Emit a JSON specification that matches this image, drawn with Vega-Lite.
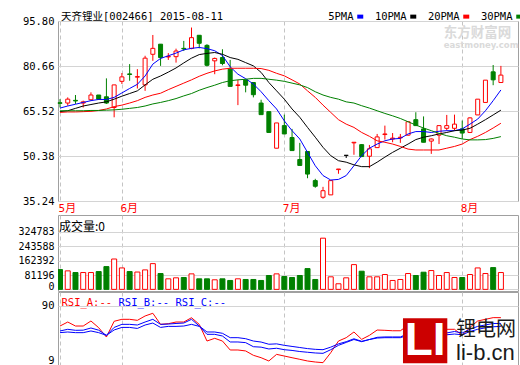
{
  "$schema": "https://vega.github.io/schema/vega-lite/v6.json",
  "background": "white",
  "padding": {"left": 17, "top": 10, "right": 1, "bottom": 1},
  "bounds": "flush",
  "spacing": 14,
  "resolve": {"scale": {"color": "independent", "fill": "independent", "stroke": "independent"}, "legend": {"color": "independent"}},
  "config": {
    "view": {"stroke": "#A0A0A0", "strokeWidth": 1},
    "axis": {"labelFont": "DejaVu Sans Mono", "labelFontSize": 10.5, "labelColor": "#000000", "ticks": false, "domain": false, "gridColor": "#D4D4D4", "gridWidth": 1, "labelOverlap": false},
    "title": {"font": "DejaVu Sans Mono, Noto Sans CJK SC", "fontSize": 10.5, "fontWeight": "normal", "color": "#000000"},
    "legend": {"padding": 0, "labelFont": "DejaVu Sans Mono", "labelFontSize": 10.5, "labelColor": "#000000"}
  },
  "datasets": {
    "k": [
      {"i":0,"o":68.3,"h":69.5,"l":66.7,"c":68.1,"d":"down","v":112000,"m5":66.5,"m10":65.3,"m20":65.05,"m30":65.6,"ra":62.5,"rb":55.7,"rc":53.4},
      {"i":1,"o":68.2,"h":70.1,"l":67.3,"c":69.5,"d":"up","v":104700,"m5":67.2,"m10":65.6,"m20":65.2,"m30":65.6,"ra":68.0,"rb":58.0,"rc":54.3},
      {"i":2,"o":69.1,"h":70.9,"l":67.9,"c":68.9,"d":"down","v":95200,"m5":67.8,"m10":66.4,"m20":65.2,"m30":65.6,"ra":62.5,"rb":56.6,"rc":53.4},
      {"i":3,"o":68.2,"h":69.0,"l":66.7,"c":68.6,"d":"up","v":95200,"m5":68.4,"m10":67.2,"m20":65.3,"m30":65.6,"ra":62.5,"rb":56.8,"rc":53.4},
      {"i":4,"o":69.3,"h":71.8,"l":69.0,"c":70.9,"d":"up","v":95200,"m5":69.0,"m10":67.7,"m20":65.4,"m30":65.7,"ra":69.4,"rb":59.8,"rc":55.7},
      {"i":5,"o":70.9,"h":70.9,"l":69.3,"c":69.5,"d":"down","v":100800,"m5":69.4,"m10":68.2,"m20":65.7,"m30":65.7,"ra":60.2,"rb":56.8,"rc":53.4},
      {"i":6,"o":70.3,"h":76.5,"l":67.9,"c":68.2,"d":"down","v":128800,"m5":69.4,"m10":68.6,"m20":66.2,"m30":65.8,"ra":47.4,"rb":49.7,"rc":49.7},
      {"i":7,"o":66.7,"h":74.3,"l":63.4,"c":74.3,"d":"up","v":171700,"m5":70.1,"m10":69.5,"m20":67.0,"m30":65.9,"ra":69.0,"rb":60.6,"rc":57.1},
      {"i":8,"o":75.5,"h":78.3,"l":74.6,"c":77.0,"d":"up","v":121300,"m5":71.6,"m10":70.5,"m20":67.5,"m30":66.1,"ra":71.7,"rb":64.8,"rc":60.6},
      {"i":9,"o":78.0,"h":81.3,"l":75.7,"c":77.8,"d":"down","v":100800,"m5":73.1,"m10":71.4,"m20":68.2,"m30":66.4,"ra":71.7,"rb":64.8,"rc":60.6},
      {"i":10,"o":76.9,"h":79.6,"l":73.1,"c":77.1,"d":"up","v":98000,"m5":74.5,"m10":72.3,"m20":69.0,"m30":66.7,"ra":70.3,"rb":63.9,"rc":59.2},
      {"i":11,"o":74.3,"h":84.1,"l":72.3,"c":83.3,"d":"up","v":110100,"m5":77.3,"m10":74.3,"m20":70.1,"m30":67.2,"ra":76.3,"rb":68.0,"rc":63.9},
      {"i":12,"o":84.6,"h":91.1,"l":82.4,"c":86.6,"d":"up","v":145600,"m5":81.3,"m10":76.2,"m20":70.9,"m30":67.9,"ra":80.0,"rb":71.7,"rc":66.6},
      {"i":13,"o":88.0,"h":88.0,"l":80.7,"c":83.5,"d":"down","v":89600,"m5":83.2,"m10":77.3,"m20":71.5,"m30":68.4,"ra":64.8,"rb":64.8,"rc":60.6},
      {"i":14,"o":83.7,"h":85.0,"l":82.7,"c":83.9,"d":"up","v":59700,"m5":84.1,"m10":78.6,"m20":72.7,"m30":69.0,"ra":65.7,"rb":65.2,"rc":62.0},
      {"i":15,"o":83.8,"h":86.5,"l":81.8,"c":85.7,"d":"up","v":65300,"m5":85.0,"m10":80.0,"m20":73.8,"m30":69.7,"ra":68.0,"rb":66.0,"rc":62.0},
      {"i":16,"o":86.6,"h":89.1,"l":85.7,"c":86.4,"d":"down","v":67200,"m5":86.1,"m10":81.7,"m20":74.9,"m30":70.6,"ra":68.0,"rb":66.6,"rc":62.5},
      {"i":17,"o":86.6,"h":93.6,"l":86.3,"c":90.2,"d":"up","v":87700,"m5":86.6,"m10":83.3,"m20":76.0,"m30":71.4,"ra":73.9,"rb":71.7,"rc":64.8},
      {"i":18,"o":91.0,"h":91.0,"l":86.6,"c":88.3,"d":"down","v":59700,"m5":86.9,"m10":84.5,"m20":77.2,"m30":72.5,"ra":64.8,"rb":62.5,"rc":62.0},
      {"i":19,"o":87.6,"h":88.0,"l":80.5,"c":80.9,"d":"down","v":59700,"m5":86.5,"m10":84.9,"m20":78.2,"m30":73.4,"ra":41.9,"rb":54.3,"rc":51.1},
      {"i":20,"o":82.4,"h":83.5,"l":77.9,"c":83.2,"d":"up","v":54100,"m5":85.8,"m10":85.2,"m20":79.0,"m30":74.2,"ra":45.6,"rb":54.3,"rc":51.1},
      {"i":21,"o":83.5,"h":86.3,"l":80.9,"c":81.5,"d":"down","v":59700,"m5":84.2,"m10":84.6,"m20":79.6,"m30":75.1,"ra":41.9,"rb":52.5,"rc":48.8},
      {"i":22,"o":79.6,"h":82.7,"l":73.8,"c":73.8,"d":"down","v":50400,"m5":80.4,"m10":83.5,"m20":79.9,"m30":75.7,"ra":29.6,"rb":46.5,"rc":40.6},
      {"i":23,"o":74.1,"h":76.0,"l":67.5,"c":74.3,"d":"up","v":59700,"m5":77.9,"m10":82.9,"m20":79.9,"m30":76.0,"ra":29.6,"rb":46.5,"rc":40.6},
      {"i":24,"o":76.0,"h":76.0,"l":71.8,"c":74.2,"d":"down","v":56000,"m5":76.4,"m10":81.8,"m20":79.9,"m30":76.2,"ra":28.3,"rb":45.1,"rc":39.7},
      {"i":25,"o":75.1,"h":75.1,"l":70.1,"c":71.0,"d":"down","v":56000,"m5":74.6,"m10":80.7,"m20":79.9,"m30":76.5,"ra":22.3,"rb":41.9,"rc":34.1},
      {"i":26,"o":68.2,"h":69.3,"l":64.3,"c":64.3,"d":"down","v":50400,"m5":72.0,"m10":78.5,"m20":79.8,"m30":76.5,"ra":19.0,"rb":40.5,"rc":33.5},
      {"i":27,"o":65.3,"h":65.3,"l":58.3,"c":58.3,"d":"down","v":78400,"m5":69.0,"m10":75.1,"m20":79.2,"m30":76.2,"ra":14.5,"rb":37.5,"rc":31.0},
      {"i":28,"o":53.0,"h":61.5,"l":53.0,"c":61.5,"d":"up","v":87700,"m5":66.2,"m10":72.3,"m20":78.2,"m30":75.9,"ra":23.6,"rb":38.0,"rc":32.0},
      {"i":29,"o":60.6,"h":64.3,"l":57.8,"c":57.8,"d":"down","v":72800,"m5":62.2,"m10":69.5,"m20":77.35,"m30":75.5,"ra":21.3,"rb":36.0,"rc":30.0},
      {"i":30,"o":56.6,"h":59.5,"l":52.2,"c":52.2,"d":"down","v":67200,"m5":58.9,"m10":66.2,"m20":76.0,"m30":74.9,"ra":19.0,"rb":34.5,"rc":29.0},
      {"i":31,"o":49.2,"h":54.8,"l":47.2,"c":47.2,"d":"down","v":78400,"m5":56.1,"m10":63.4,"m20":74.6,"m30":74.3,"ra":16.8,"rb":33.0,"rc":27.5},
      {"i":32,"o":51.9,"h":51.9,"l":42.9,"c":44.3,"d":"down","v":117600,"m5":51.6,"m10":60.0,"m20":72.3,"m30":73.4,"ra":14.5,"rb":31.5,"rc":26.5},
      {"i":33,"o":42.1,"h":42.7,"l":39.7,"c":40.2,"d":"down","v":56000,"m5":47.1,"m10":56.7,"m20":70.1,"m30":72.0,"ra":13.1,"rb":30.5,"rc":25.5},
      {"i":34,"o":36.5,"h":40.0,"l":36.0,"c":38.7,"d":"up","v":289500,"m5":43.8,"m10":53.3,"m20":67.5,"m30":70.9,"ra":12.2,"rb":30.0,"rc":25.0},
      {"i":35,"o":37.3,"h":42.1,"l":37.3,"c":42.1,"d":"up","v":71000,"m5":42.3,"m10":50.5,"m20":65.05,"m30":70.1,"ra":25.9,"rb":33.5,"rc":30.0},
      {"i":36,"o":45.8,"h":46.0,"l":44.4,"c":46.0,"d":"up","v":31700,"m5":42.5,"m10":48.8,"m20":62.6,"m30":69.5,"ra":41.9,"rb":38.0,"rc":36.0},
      {"i":37,"o":50.6,"h":50.6,"l":49.7,"c":50.6,"d":"flat","v":65300,"m5":43.8,"m10":48.3,"m20":61.1,"m30":68.6,"ra":46.5,"rb":41.0,"rc":40.0},
      {"i":38,"o":54.8,"h":55.0,"l":50.8,"c":55.0,"d":"up","v":140000,"m5":47.1,"m10":47.4,"m20":60.0,"m30":68.2,"ra":54.3,"rb":45.0,"rc":44.0},
      {"i":39,"o":54.2,"h":54.4,"l":50.0,"c":50.2,"d":"down","v":102700,"m5":50.5,"m10":46.8,"m20":58.3,"m30":67.3,"ra":44.2,"rb":41.5,"rc":41.0},
      {"i":40,"o":50.3,"h":54.1,"l":46.3,"c":52.8,"d":"up","v":71000,"m5":53.0,"m10":46.8,"m20":57.0,"m30":66.5,"ra":49.7,"rb":44.0,"rc":44.0},
      {"i":41,"o":53.2,"h":57.8,"l":53.2,"c":56.8,"d":"up","v":71000,"m5":54.4,"m10":48.3,"m20":55.5,"m30":65.6,"ra":57.0,"rb":47.0,"rc":46.0},
      {"i":42,"o":57.6,"h":60.6,"l":55.9,"c":57.8,"d":"up","v":84000,"m5":55.5,"m10":50.0,"m20":55.0,"m30":64.7,"ra":56.6,"rb":47.5,"rc":46.5},
      {"i":43,"o":56.1,"h":58.1,"l":55.0,"c":56.4,"d":"up","v":50400,"m5":56.1,"m10":51.6,"m20":54.4,"m30":63.9,"ra":56.0,"rb":47.5,"rc":46.5},
      {"i":44,"o":56.5,"h":57.8,"l":54.8,"c":56.7,"d":"up","v":56000,"m5":56.3,"m10":53.0,"m20":53.6,"m30":63.0,"ra":56.0,"rb":47.5,"rc":46.5},
      {"i":45,"o":57.4,"h":61.9,"l":57.2,"c":61.9,"d":"up","v":89600,"m5":57.8,"m10":54.4,"m20":52.7,"m30":61.9,"ra":63.5,"rb":52.0,"rc":50.0},
      {"i":46,"o":62.6,"h":65.1,"l":60.6,"c":60.6,"d":"down","v":78400,"m5":58.6,"m10":55.9,"m20":52.4,"m30":60.8,"ra":60.0,"rb":51.0,"rc":49.5},
      {"i":47,"o":59.5,"h":63.7,"l":55.0,"c":55.0,"d":"down","v":97100,"m5":58.6,"m10":56.7,"m20":52.4,"m30":59.8,"ra":52.0,"rb":48.0,"rc":47.0},
      {"i":48,"o":55.4,"h":56.3,"l":51.1,"c":56.1,"d":"up","v":106400,"m5":58.3,"m10":57.2,"m20":52.4,"m30":58.9,"ra":55.0,"rb":49.5,"rc":48.0},
      {"i":49,"o":57.4,"h":60.6,"l":54.4,"c":60.6,"d":"up","v":78400,"m5":58.7,"m10":57.8,"m20":52.4,"m30":58.0,"ra":57.0,"rb":51.0,"rc":49.0},
      {"i":50,"o":59.7,"h":64.2,"l":58.9,"c":60.6,"d":"up","v":95200,"m5":58.9,"m10":58.3,"m20":53.0,"m30":57.2,"ra":58.0,"rb":53.0,"rc":50.5},
      {"i":51,"o":59.7,"h":64.3,"l":58.9,"c":61.1,"d":"up","v":67200,"m5":58.9,"m10":58.9,"m20":53.6,"m30":56.7,"ra":58.0,"rb":55.0,"rc":51.5},
      {"i":52,"o":59.5,"h":62.3,"l":56.1,"c":58.1,"d":"down","v":67200,"m5":59.5,"m10":59.1,"m20":54.4,"m30":56.1,"ra":49.7,"rb":53.0,"rc":50.5},
      {"i":53,"o":58.3,"h":63.4,"l":58.1,"c":63.2,"d":"up","v":84000,"m5":61.1,"m10":59.7,"m20":55.9,"m30":55.8,"ra":60.6,"rb":58.0,"rc":55.0},
      {"i":54,"o":64.2,"h":69.5,"l":64.2,"c":69.5,"d":"up","v":121300,"m5":62.8,"m10":61.1,"m20":57.0,"m30":55.8,"ra":69.4,"rb":62.0,"rc":58.0},
      {"i":55,"o":68.4,"h":75.9,"l":68.4,"c":75.9,"d":"up","v":89600,"m5":65.6,"m10":62.6,"m20":58.3,"m30":55.9,"ra":71.7,"rb":64.0,"rc":60.0},
      {"i":56,"o":78.7,"h":81.0,"l":74.2,"c":76.0,"d":"down","v":123200,"m5":69.0,"m10":64.2,"m20":59.8,"m30":56.3,"ra":74.0,"rb":66.0,"rc":61.5},
      {"i":57,"o":75.1,"h":80.7,"l":75.1,"c":77.6,"d":"up","v":95200,"m5":72.6,"m10":65.8,"m20":61.4,"m30":56.9,"ra":74.0,"rb":66.0,"rc":62.0}
    ]
  },
  "vconcat": [
    {
      "width": 460,
      "height": 180,
      "title": {"text": "天齐锂业[002466] 2015-08-11", "anchor": "start", "frame": "group", "offset": -5, "dx": 3, "dy": 6},
      "data": {"name": "k"},
      "encoding": {
        "x": {"field": "i", "type": "quantitative", "scale": {"domain": [-0.26, 59.21], "nice": false, "zero": false, "padding": 0},
          "axis": {"title": null, "values": [0, 8, 29, 52], "labelExpr": "datum.value == 0 ? '5月' : datum.value == 8 ? '6月' : datum.value == 29 ? '7月' : '8月'", "grid": true, "gridDash": [4, 3], "gridColor": "#C4C4C4", "labelColor": "#FF0000", "labelFont": "DejaVu Sans Mono, Noto Sans CJK SC", "labelFontSize": 11, "labelAlign": "left", "labelOffset": -2, "labelPadding": 1, "labelFlush": false, "labelOverlap": false}}
      },
      "layer": [
        {
          "mark": {"type": "rule", "strokeWidth": 1},
          "encoding": {
            "y": {"field": "l", "type": "quantitative", "scale": {"domain": [35.24, 95.8], "nice": false, "zero": false, "padding": 0},
              "axis": {"title": null, "values": [35.24, 42.81, 50.38, 57.95, 65.52, 73.09, 80.66, 88.23, 95.8], "format": ".2f", "grid": true, "labelPadding": 4, "labelOverlap": false}},
            "y2": {"field": "h"},
            "stroke": {"field": "d", "type": "nominal", "scale": {"domain": ["up", "down", "flat"], "range": ["#FF0000", "#008000", "#000000"]}, "legend": null}
          }
        },
        {
          "mark": {"type": "bar", "size": 4, "strokeWidth": 1},
          "encoding": {
            "y": {"field": "o", "type": "quantitative"},
            "y2": {"field": "c"},
            "fill": {"field": "d", "type": "nominal", "scale": {"domain": ["up", "down", "flat"], "range": ["#FFFFFF", "#008000", "#000000"]}, "legend": null},
            "stroke": {"field": "d", "type": "nominal", "legend": null}
          }
        },
        {
          "transform": [{"fold": ["m5", "m10", "m20", "m30"], "as": ["ma", "val"]}],
          "mark": {"type": "line", "strokeWidth": 1},
          "encoding": {
            "y": {"field": "val", "type": "quantitative"},
            "color": {"field": "ma", "type": "nominal", "scale": {"domain": ["m5", "m10", "m20", "m30"], "range": ["#0000FF", "#000000", "#FF0000", "#008000"]},
              "legend": {"orient": "none", "legendX": 297, "legendY": -10, "direction": "horizontal", "title": null,
                "labelExpr": "datum.value == 'm5' ? '5PMA' : datum.value == 'm10' ? '10PMA' : datum.value == 'm20' ? '20PMA' : '30PMA'",
                "labelAlign": "right", "labelOffset": -12, "symbolType": "stroke", "symbolSize": 36, "symbolStrokeWidth": 4, "columnPadding": 2}}
          }
        },
        {
          "transform": [{"filter": "datum.i == 0"}],
          "mark": {"type": "text", "text": "东方财富网", "font": "Noto Sans CJK SC", "fontSize": 13.5, "fontWeight": "bold", "color": "#DADADA", "align": "left", "baseline": "middle"},
          "encoding": {"x": {"datum": 49.6}, "y": {"datum": 91.8}}
        },
        {
          "transform": [{"filter": "datum.i == 0"}],
          "mark": {"type": "text", "text": "eastmoney.com", "font": "DejaVu Sans", "fontSize": 8.5, "fontWeight": "bold", "color": "#DADADA", "align": "left", "baseline": "middle"},
          "encoding": {"x": {"datum": 49.6}, "y": {"datum": 87.6}}
        }
      ]
    },
    {
      "bounds": "flush",
      "spacing": 1,
      "resolve": {"scale": {"color": "independent", "fill": "independent", "stroke": "independent"}, "legend": {"color": "independent"}},
      "vconcat": [
        {
          "width": 460,
          "height": 76,
          "title": {"text": "成交量:0", "anchor": "start", "frame": "group", "offset": -19, "dx": 1, "font": "Noto Sans CJK SC", "fontSize": 12},
          "data": {"name": "k"},
          "mark": {"type": "bar", "size": 5, "strokeWidth": 1, "clip": true},
          "encoding": {
            "x": {"field": "i", "type": "quantitative", "scale": {"domain": [-0.26, 59.21], "nice": false, "zero": false, "padding": 0},
              "axis": {"title": null, "values": [0, 8, 29, 52], "labels": false, "grid": true, "gridDash": [4, 3], "gridColor": "#C4C4C4"}},
            "y": {"field": "v", "type": "quantitative", "scale": {"domain": [-9200, 420600], "nice": false, "zero": false, "padding": 0},
              "axis": {"title": null, "values": [0, 81196, 162392, 243588, 324783], "format": "d", "grid": true, "labelFlush": 3, "labelFlushOffset": 2, "labelFontSize": 10, "labelPadding": 4, "labelOverlap": false}},
            "fill": {"field": "d", "type": "nominal", "scale": {"domain": ["up", "down", "flat"], "range": ["#FFFFFF", "#008000", "#FFFFFF"]}, "legend": null},
            "stroke": {"field": "d", "type": "nominal", "scale": {"domain": ["up", "down", "flat"], "range": ["#FF0000", "#008000", "#FF0000"]}, "legend": null}
          }
        },
        {
          "width": 460,
          "height": 73,
          "data": {"name": "k"},
          "encoding": {
            "x": {"field": "i", "type": "quantitative", "scale": {"domain": [-0.26, 59.21], "nice": false, "zero": false, "padding": 0},
              "axis": {"title": null, "values": [0, 8, 29, 52], "labels": false, "grid": true, "gridDash": [4, 3], "gridColor": "#C4C4C4"}}
          },
          "layer": [
            {
              "transform": [{"fold": ["ra", "rb", "rc"], "as": ["rsi", "rv"]}],
              "mark": {"type": "line", "strokeWidth": 1},
              "encoding": {
                "y": {"field": "rv", "type": "quantitative", "scale": {"domain": [9, 109.2], "nice": false, "zero": false, "padding": 0},
                  "axis": {"title": null, "values": [9, 49, 90], "grid": true, "labelFlush": 1, "labelPadding": 4, "labelOverlap": false}},
                "color": {"field": "rsi", "type": "nominal", "scale": {"domain": ["ra", "rb", "rc"], "range": ["#FF0000", "#0000FF", "#0000FF"]},
                  "legend": {"orient": "none", "legendX": 1, "legendY": 6, "direction": "horizontal", "title": null,
                    "labelExpr": "datum.value == 'ra' ? 'RSI_A:--' : datum.value == 'rb' ? 'RSI_B:--' : 'RSI_C:--'",
                    "labelColor": {"expr": "datum.value == 'ra' ? '#FF0000' : '#0000FF'"},
                    "symbolSize": 0, "symbolStrokeWidth": 0, "labelOffset": -8, "columnPadding": 3}}
              }
            },
            {
              "transform": [{"filter": "datum.i == 0"}],
              "mark": {"type": "rect", "color": "#CC0000"},
              "encoding": {"x": {"datum": 44.34}, "x2": {"datum": 50.07}, "y": {"datum": 11.3}, "y2": {"datum": 73.1}}
            },
            {
              "transform": [{"filter": "datum.i == 0"}],
              "mark": {"type": "text", "text": "LI", "font": "Liberation Sans", "fontSize": 46, "fontWeight": "bold", "color": "#FFFFFF", "align": "center", "baseline": "middle"},
              "encoding": {"x": {"datum": 47.2}, "y": {"datum": 42}}
            },
            {
              "transform": [{"filter": "datum.i == 0"}],
              "mark": {"type": "text", "text": "锂电网", "font": "Noto Sans CJK SC", "fontSize": 20, "color": "#1A1A1A", "align": "left", "baseline": "middle"},
              "encoding": {"x": {"datum": 51.2}, "y": {"datum": 57}}
            },
            {
              "transform": [{"filter": "datum.i == 0"}],
              "mark": {"type": "text", "text": "li-b.cn", "font": "Liberation Sans", "fontSize": 22, "color": "#1A1A1A", "align": "left", "baseline": "middle"},
              "encoding": {"x": {"datum": 51.2}, "y": {"datum": 24.8}}
            }
          ]
        }
      ]
    }
  ]
}
